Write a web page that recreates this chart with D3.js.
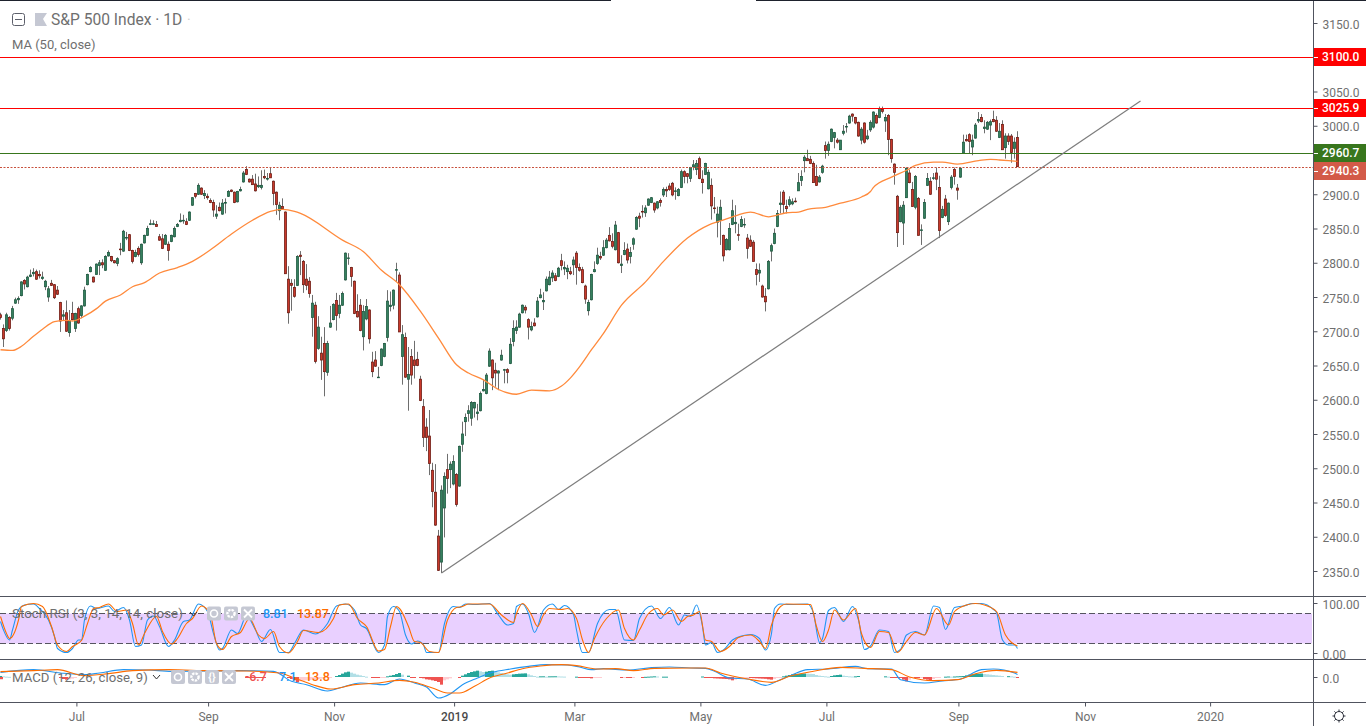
<!DOCTYPE html>
<html>
<head>
<meta charset="utf-8">
<title>S&amp;P 500 Index - 1D</title>
<script src="https://cdnjs.cloudflare.com/ajax/libs/d3/7.8.5/d3.min.js"></script>
<style>
  html, body { margin: 0; padding: 0; background: #fff; overflow: hidden; }
  text { font-family: Roboto, "Liberation Sans", sans-serif; }
</style>
</head>
<body>
<script>
// daily candles, left to right
var opens = [
2724,2704,2701,2720,2719,2741,2746,2752,2774,2765,2780,2784,2787,2783,2777,2765,2750,2770,2768,2760,
2742,2722,2727,2698,2726,2704,2733,2723,2737,2768,2787,2779,2783,2796,2800,2789,2810,2809,2803,2799,
2820,2817,2836,2841,2818,2809,2821,2800,2829,2840,2856,2856,2856,2838,2835,2827,2827,2831,2838,2853,
2860,2861,2860,2862,2884,2901,2900,2909,2898,2897,2891,2888,2868,2881,2871,2887,2897,2906,2903,2889,
2905,2918,2936,2922,2922,2915,2911,2910,2926,2923,2930,2919,2903,2876,2882,2874,2776,2770,2764,2767,
2811,2802,2776,2773,2720,2738,2675,2668,2682,2640,2706,2717,2745,2726,2738,2775,2807,2793,2773,2729,
2738,2692,2718,2731,2655,2658,2633,2650,2663,2691,2736,2738,2790,2782,2663,2691,2630,2663,2658,2659,
2630,2590,2560,2547,2497,2465,2401,2363,2442,2498,2498,2477,2491,2474,2535,2568,2580,2573,2588,2580,
2584,2613,2609,2649,2658,2643,2639,2658,2644,2644,2653,2685,2701,2706,2727,2735,2717,2702,2712,2721,
2749,2743,2759,2768,2778,2781,2780,2803,2791,2787,2787,2797,2814,2793,2790,2766,2730,2746,2787,2799,
2809,2811,2822,2840,2831,2819,2844,2796,2812,2820,2809,2827,2849,2868,2875,2873,2884,2888,2887,2880,
2891,2899,2907,2912,2916,2904,2898,2910,2933,2930,2923,2940,2936,2952,2922,2929,2908,2913,2880,2859,
2862,2840,2819,2819,2856,2857,2841,2853,2856,2836,2833,2830,2790,2785,2766,2751,2762,2817,2828,2853,
2885,2903,2882,2885,2886,2890,2905,2920,2949,2952,2951,2945,2926,2918,2932,2971,2964,2977,2983,2979,
2965,2989,2999,3004,3017,3012,3005,2979,3004,2981,2994,2998,3015,3012,3024,3007,3015,2980,2944,2897,
2860,2858,2895,2931,2907,2881,2894,2847,2865,2913,2919,2923,2931,2910,2866,2893,2860,2910,2936,2909,
2925,2960,2980,2987,2969,2982,3007,3012,2996,2995,3001,3009,3008,2983,3002,2968,2985,2985,2967,2983];
var closes = [
2720,2689,2724,2704,2733,2746,2748,2772,2769,2779,2782,2786,2776,2781,2779,2773,2762,2767,2749,2754,
2715,2724,2700,2715,2717,2726,2712,2737,2760,2783,2793,2772,2798,2800,2797,2809,2815,2803,2800,2806,
2819,2846,2837,2818,2802,2815,2812,2827,2840,2850,2857,2857,2853,2833,2821,2840,2818,2840,2850,2856,
2862,2862,2856,2874,2895,2897,2913,2900,2901,2895,2888,2877,2871,2876,2887,2888,2904,2904,2888,2904,
2907,2931,2929,2918,2914,2905,2913,2913,2924,2923,2924,2901,2885,2884,2879,2784,2727,2767,2751,2809,
2809,2768,2767,2755,2741,2656,2706,2658,2641,2682,2712,2739,2723,2738,2755,2814,2807,2780,2726,2721,
2701,2729,2736,2689,2641,2649,2633,2674,2682,2744,2738,2760,2790,2699,2695,2633,2637,2636,2650,2650,
2599,2545,2545,2507,2466,2417,2351,2468,2488,2485,2506,2510,2447,2532,2550,2574,2584,2596,2596,2582,
2609,2615,2636,2671,2632,2639,2642,2665,2644,2640,2681,2704,2706,2725,2738,2731,2706,2707,2708,2744,
2753,2745,2776,2779,2785,2774,2792,2796,2793,2792,2784,2804,2793,2789,2771,2747,2742,2783,2790,2811,
2807,2822,2833,2832,2824,2855,2800,2798,2818,2804,2815,2835,2866,2865,2874,2880,2893,2895,2877,2889,
2888,2907,2905,2907,2899,2905,2907,2933,2926,2926,2939,2943,2945,2923,2917,2945,2932,2883,2879,2871,
2881,2810,2834,2850,2876,2859,2840,2863,2856,2821,2824,2802,2783,2789,2750,2743,2802,2825,2843,2872,
2887,2885,2879,2892,2889,2889,2917,2926,2954,2949,2945,2917,2913,2925,2941,2964,2973,2995,2990,2976,
2979,2992,2999,3014,3014,3004,2985,2995,2976,2985,3005,3020,3004,3025,3021,3012,2980,2952,2932,2844,
2881,2884,2938,2917,2882,2926,2840,2848,2888,2923,2900,2924,2922,2847,2878,2869,2887,2925,2926,2906,
2938,2976,2978,2977,2979,3001,3009,3006,2998,3005,3006,3006,2992,2992,2965,2985,2977,2961,2976,2940.3];
var highs = [
2727,2710,2727,2722,2737,2749,2751,2773,2776,2781,2790,2792,2790,2789,2787,2775,2766,2775,2769,2766,
2743,2731,2745,2731,2743,2727,2736,2738,2765,2784,2795,2780,2799,2804,2805,2811,2818,2810,2804,2808,
2829,2848,2845,2842,2819,2819,2824,2828,2841,2854,2863,2862,2861,2842,2842,2842,2831,2841,2853,2858,
2872,2870,2865,2875,2896,2902,2916,2910,2906,2901,2894,2892,2884,2888,2893,2894,2906,2907,2904,2905,
2911,2934,2941,2923,2928,2930,2926,2935,2936,2931,2939,2920,2904,2889,2894,2875,2795,2776,2776,2811,
2817,2804,2798,2779,2753,2743,2722,2692,2706,2686,2737,2741,2756,2753,2758,2815,2814,2794,2774,2754,
2747,2738,2747,2732,2670,2671,2648,2675,2683,2760,2758,2761,2800,2786,2709,2698,2677,2674,2686,2670,
2635,2601,2573,2585,2508,2506,2410,2475,2494,2521,2510,2519,2493,2533,2568,2580,2592,2598,2597,2594,
2612,2629,2639,2675,2659,2654,2643,2673,2645,2646,2690,2716,2716,2727,2739,2738,2719,2714,2719,2750,
2762,2757,2780,2788,2789,2785,2794,2813,2802,2797,2794,2809,2817,2799,2794,2768,2746,2784,2802,2822,
2816,2833,2836,2852,2843,2861,2845,2811,2830,2828,2823,2837,2868,2873,2884,2884,2894,2896,2888,2890,
2894,2910,2911,2916,2918,2910,2909,2936,2935,2931,2940,2950,2950,2955,2935,2946,2936,2923,2896,2882,
2892,2841,2836,2858,2892,2884,2857,2868,2865,2842,2840,2833,2799,2799,2768,2763,2804,2828,2850,2877,
2904,2906,2892,2897,2894,2895,2931,2935,2957,2965,2956,2948,2943,2928,2943,2977,2977,2996,2991,2982,
2979,3001,3004,3016,3018,3013,3006,2998,3005,2994,3008,3021,3018,3028,3028,3017,3017,2981,2945,2899,
2884,2890,2939,2936,2918,2928,2896,2856,2893,2931,2925,2931,2939,2927,2883,2899,2888,2928,2939,2915,
2939,2987,2987,2989,2987,3004,3020,3017,3008,3007,3009,3022,3014,3004,3008,2989,2989,2988,2983,2992];
var lows = [
2717,2677,2699,2701,2716,2740,2740,2751,2761,2764,2779,2780,2775,2777,2775,2760,2743,2766,2747,2753,
2699,2716,2699,2692,2716,2699,2711,2719,2736,2767,2786,2771,2783,2782,2792,2788,2809,2801,2799,2795,
2811,2816,2833,2817,2799,2808,2809,2797,2828,2839,2855,2855,2853,2832,2820,2826,2803,2830,2837,2852,
2859,2857,2855,2861,2883,2894,2899,2899,2893,2892,2887,2867,2864,2875,2870,2872,2896,2903,2887,2888,
2904,2917,2928,2917,2914,2904,2909,2907,2922,2920,2924,2884,2870,2862,2877,2784,2711,2730,2749,2766,
2782,2756,2760,2749,2692,2653,2673,2629,2605,2635,2705,2716,2701,2719,2737,2774,2797,2765,2725,2720,
2700,2672,2716,2682,2633,2648,2632,2649,2662,2685,2729,2732,2772,2699,2622,2632,2584,2622,2631,2649,
2598,2531,2525,2490,2443,2416,2350,2347,2399,2463,2471,2475,2444,2473,2524,2547,2568,2562,2574,2570,
2583,2612,2608,2648,2614,2619,2614,2657,2624,2624,2652,2678,2696,2705,2726,2726,2688,2700,2707,2720,
2748,2731,2758,2767,2772,2773,2779,2789,2782,2776,2782,2782,2768,2787,2770,2740,2723,2745,2786,2797,
2804,2810,2821,2831,2821,2818,2799,2785,2811,2799,2799,2819,2848,2852,2866,2867,2883,2887,2873,2878,
2882,2896,2896,2905,2897,2892,2897,2909,2916,2916,2918,2935,2928,2922,2901,2928,2907,2863,2872,2837,
2826,2802,2818,2818,2855,2843,2832,2852,2851,2806,2823,2802,2767,2772,2749,2729,2761,2802,2827,2852,
2872,2872,2872,2882,2884,2888,2905,2912,2932,2949,2944,2917,2912,2917,2930,2952,2956,2976,2967,2974,
2965,2986,2990,3003,3006,3002,2984,2973,2974,2979,2991,2996,3003,3011,3018,2991,2957,2946,2914,2823,
2859,2826,2895,2916,2882,2878,2840,2826,2864,2912,2899,2921,2906,2836,2865,2867,2855,2907,2914,2892,
2924,2959,2977,2960,2957,2981,3004,3005,2989,2994,2979,3005,2991,2982,2965,2952,2972,2946,2952,2940];

// 50 day moving average
var maBars = [0,4,7,10,14,18,22,24,28,32,35,40,44,48,53,59,64,70,77,84,90,94,98,100,114,121,127,133,140,146,152,156,161,166,172,177,183,187,190,
  193,197,201,207,215,221,229,236,240,246,250,256,262,266,269,275,280,287,290,291,297,302,305,311,314,319,326,330,333,339];
var maValues = [2673,2672,2678,2689,2703,2714,2716,2715,2722,2733,2744,2753,2765,2771,2785,2793,2802,2819,2842,2862,2875,2878,2875,2872,2833,2816,2789,2768,2729,2690,2651,2639,2629,2615,2608,2614,2613,2620,2632,
  2648,2673,2697,2738,2772,2802,2836,2855,2861,2870,2874,2867,2873,2874,2878,2881,2887,2896,2904,2910,2925,2935,2942,2947,2947,2944,2949,2951,2950,2948];

// horizontal levels and the trend line
var levelPrices = [3100, 3025.9, 2960.7, 2940.3];
var levelLabels = ["3100.0", "3025.9", "2960.7", "2940.3"];
var levelColors = ["#ff0000", "#ff0000", "#38761d", "#d35a48"];
var trendBars = [147, 380];
var trendPrices = [2347, 3036];

// stochastic rsi lines
var kBars = [0,1,3,4,6,8,11,13,16,18,19,22,24,26,27,28,30,32,36,38,41,43,45,47,49,51,53,56,58,61,63,66,69,71,73,74,77,79,82,85,87,90,93,96,98,101,105,109,112,115,118,120,122,126,128,129,131,133,
  135,137,139,141,142,146,148,151,153,155,158,163,166,169,171,172,174,176,178,181,184,186,188,191,192,194,196,199,203,205,208,211,213,217,220,223,226,228,230,
  232,234,235,237,239,241,244,247,250,253,255,257,258,260,263,269,271,273,274,276,278,281,284,286,288,290,293,296,298,300,302,305,308,311,313,315,318,321,324,327,331,332,334,336,338,339];
var kValues = [63,46,26,46,86,96,98,89,66,33,9,1,9,26,26,66,94,89,94,83,91,66,13,16,66,74,53,13,26,63,66,98,83,39,6,9,46,39,74,46,23,47,1,1,19,46,38,59,94,98,86,56,49,1,16,73,93,83,
  36,18,24,16,1,1,59,93,91,98,97,99,76,56,59,93,98,79,41,86,98,87,95,77,46,1,1,59,87,87,26,25,69,94,69,91,56,76,73,
  96,53,16,21,1,6,26,34,37,29,6,39,89,98,97,98,79,21,29,85,91,63,93,66,7,14,46,43,1,7,36,43,36,94,91,47,91,94,99,99,87,81,26,16,16,8.81];
var dBars = [0,2,3,6,7,11,14,17,19,22,24,27,29,31,33,36,39,42,44,46,48,52,54,57,59,62,64,67,70,72,74,77,80,83,86,88,91,93,96,99,101,106,111,113,116,119,122,126,128,130,132,
  133,136,138,140,143,146,149,152,154,156,159,163,167,171,172,174,177,179,181,183,187,189,192,194,196,198,202,206,208,211,213,216,219,221,224,227,229,
  231,233,235,237,240,243,246,250,253,255,257,260,262,270,272,274,276,278,281,285,287,290,293,296,299,302,305,308,312,316,318,322,325,328,332,335,337,339];
var dValues = [73,39,29,66,93,99,93,53,16,3,13,25,59,89,91,98,83,86,59,16,39,73,43,18,29,59,69,94,76,19,7,33,41,69,36,29,43,13,0,23,45,41,69,96,98,69,53,4,7,53,93,
  89,53,23,21,3,1,66,91,93,98,98,98,76,61,79,99,76,53,76,89,87,89,69,26,1,29,69,86,49,26,46,79,89,76,86,63,73,
  76,83,26,23,3,13,31,36,23,9,56,93,98,97,53,23,46,86,66,89,39,11,43,41,1,23,41,36,89,56,83,96,99,96,83,36,21,13.87];
var stochTicks = [100, 0];
var stochBand = [80, 20];

// macd lines
var macdBars = [0,11,20,28,33,41,49,57,69,80,91,97,102,109,113,120,128,133,138,142,146,150,154,159,164,170,176,182,189,193,197,201,209,217,223,230,235,238,243,249,255,260,264,269,276,285,289,297,300,308,314,320,327,331,338,339];
var macdValues = [14,22,12,7,12,22,21,17,18,19,17,-13,-23,-42,-33,-18,-23,-6,-18,-30,-63,-50,-23,-3,14,24,32,37,36,30,22,25,21,28,30,27,26,17,-3,-6,-25,-8,7,22,24,32,25,24,-8,-18,-12,-6,22,24,12,7.1];
var signalBars = [0,11,19,28,36,44,56,69,82,93,98,104,110,118,126,133,138,144,149,153,158,163,169,174,180,187,192,199,205,211,218,230,235,240,249,257,263,271,280,288,297,303,311,319,325,332,339];
var signalValues = [16,19,22,4,10,19,22,19,18,12,-3,-23,-36,-23,-18,-10,-16,-33,-48,-48,-28,-3,12,25,33,37,34,24,25,19,26,27,27,12,-6,-16,2,17,29,26,22,0,-11,-8,10,20,13.8];
var histBars = [0,1,2,3,20,21,22,23,24,25,82,83,84,85,86,87,88,96,97,98,99,100,101,102,103,104,105,106,107,108,109,110,112,113,114,115,116,117,118,119,120,121,122,124,125,126,127,128,129,130,131,132,133,134,
  136,137,138,140,141,142,143,144,145,146,147,148,149,150,153,154,155,156,157,158,159,160,161,162,163,164,165,166,167,168,169,170,171,172,173,174,175,176,177,178,179,180,181,182,183,184,185,186,187,188,
  192,193,194,195,196,197,198,199,200,207,208,209,210,211,214,215,216,217,218,219,221,222,234,235,236,237,238,239,240,241,242,243,244,245,246,247,248,249,250,251,252,253,254,255,256,257,258,
  259,260,261,262,263,264,265,266,267,268,269,270,271,272,273,274,275,276,277,278,279,280,281,282,283,284,285,286,295,296,297,298,299,300,301,302,303,304,305,306,307,308,309,310,311,312,313,315,316,
  317,318,319,320,321,322,323,324,325,326,327,328,329,330,331,332,333,334,336,337,338,339];
var histValues = [3,2,1,0.5,-3,-6,-8,-7,-5,-3,-1,-1.1,-1.2,-1.3,-1.4,-1.5,-1.6,-3,-6,-10,-16,-13,-11,-10,-9,-8,-7,-6,-5,-4,-3,-1,3,6,10,14,16,13,10,7,5,3,1,-1,-2,-2.5,-1,-0.5,2,4,6,9,12,7,4,
  -1,-1.2,-1.4,-4,-7,-8,-10,-12,-15,-23,-10,-7,-4,-2,4,8,12,15,17,19,17,15,16,18,19,17,14,12,10,8,7,8,9,10,10.5,11,8,5,3,1,2,2.1,1,2,2.1,2.2,1.8,1.5,1.2,1,
  -1,-1.5,-2,-2.5,-4,-3,-2,-1.5,-1,-0.5,-1,-1.5,-1,-0.5,0.5,1,1.5,2,1.5,1,1,1.5,-1,-2,-3,-4,-4.5,-5,-5.5,-6,-7,-10,-8,-6,-4,-3,-2,-3,-3.5,-4,-4.5,-5,-5.5,-7,-8,-6,-3,-1,
  2,4,6,8,9,9.5,10,10.5,10,9.5,9,6,4,3,2,1,3,5,6,7,4,3,2,1.5,2,3,2,1,-0.5,-1,-1.5,-2,-8,-13,-8,-2,-3,-3.5,-3,-6,-8,-10,-6,-3,-1,1,1.5,1,1.5,
  2,2.5,3,5,7,8,9,10,10.5,9,8,7,6,5,4,3,2.5,2,1,-1,-2,-3,-6.7];

// axis ticks, 2950 sits behind the tags so it is left out
var priceTicks = [3150,3050,3000,2900,2850,2800,2750,2700,2650,2600,2550,2500,2450,2400,2350];
var timeBars = [25.3,69.2,111.2,151.2,191.3,233.3,275.3,319.3,361.5,403.2];
var timeLabels = ["Jul","Sep","Nov","2019","Mar","May","Jul","Sep","Nov","2020"];

var width = 1366, height = 726;
var axisX = 1313;
var priceBottom = 596, stochBottom = 659, macdBottom = 702;
var lineColor = "#50535e", textColor = "#6f6f6f", tickColor = "#50535e";

var svg = d3.select("body").append("svg")
  .attr("width", width)
  .attr("height", height)
  .style("display", "block");

var xScale = d3.scaleLinear().domain([0, 339]).range([0.5, 1017.5]);
var yPrice = d3.scaleLinear().domain([3150, 2350]).range([23, 571]);
var yStoch = d3.scaleLinear().domain([100, 0]).range([603, 653]);
var yMacd = d3.scaleLinear().domain([60, -60]).range([657, 697]);

// stoch rsi band goes under everything
svg.append("rect")
  .attr("x", 0)
  .attr("y", yStoch(stochBand[0]) + 0.5)
  .attr("width", axisX - 1)
  .attr("height", yStoch(stochBand[1]) - yStoch(stochBand[0]))
  .attr("fill", "#e9d0ff");

svg.selectAll(".band")
  .data(stochBand)
  .enter()
  .append("line")
  .attr("class", "band")
  .attr("x1", 0)
  .attr("x2", axisX - 1)
  .attr("y1", function(d) { return yStoch(d) + 0.5; })
  .attr("y2", function(d) { return yStoch(d) + 0.5; })
  .attr("stroke", "#55555f")
  .attr("stroke-width", 1)
  .attr("stroke-dasharray", "6,3");

// wicks then bodies
var candles = svg.append("g").selectAll("g")
  .data(opens)
  .enter()
  .append("g");

candles.append("line")
  .attr("x1", function(d, i) { return xScale(i); })
  .attr("x2", function(d, i) { return xScale(i); })
  .attr("y1", function(d, i) { return yPrice(highs[i]); })
  .attr("y2", function(d, i) { return yPrice(lows[i]); })
  .attr("stroke", "#6e6e6e")
  .attr("stroke-width", 1);

candles.append("rect")
  .attr("x", function(d, i) { return xScale(i) - 1; })
  .attr("y", function(d, i) { return yPrice(Math.max(opens[i], closes[i])); })
  .attr("width", 2)
  .attr("height", function(d, i) { return Math.max(0.6, yPrice(Math.min(opens[i], closes[i])) - yPrice(Math.max(opens[i], closes[i]))); })
  .attr("fill", function(d, i) { return closes[i] >= opens[i] ? "#36805e" : "#c9392b"; })
  .attr("stroke", function(d, i) { return closes[i] >= opens[i] ? "#1f5a42" : "#6f1d14"; })
  .attr("stroke-width", 0.8);

function bandLine(yScale) {
  return d3.line()
    .x(function(d) { return xScale(d[0]); })
    .y(function(d) { return yScale(d[1]); })
    .curve(d3.curveMonotoneX);
}

// moving average
svg.append("path")
  .attr("d", bandLine(yPrice)(d3.zip(maBars, maValues)))
  .attr("fill", "none")
  .attr("stroke", "#ff8a3c")
  .attr("stroke-width", 1.3);

// levels
svg.selectAll(".level")
  .data(levelPrices)
  .enter()
  .append("line")
  .attr("class", "level")
  .attr("x1", 0)
  .attr("x2", axisX)
  .attr("y1", function(d) { return Math.round(yPrice(d)) + 0.5; })
  .attr("y2", function(d) { return Math.round(yPrice(d)) + 0.5; })
  .attr("stroke", function(d, i) { return i == 3 ? "#c8513d" : levelColors[i]; })
  .attr("stroke-width", 1)
  .attr("stroke-dasharray", function(d, i) { return i == 3 ? "2,1.5" : null; });

// trend line
svg.append("line")
  .attr("x1", xScale(trendBars[0]))
  .attr("y1", yPrice(trendPrices[0]))
  .attr("x2", xScale(trendBars[1]))
  .attr("y2", yPrice(trendPrices[1]))
  .attr("stroke", "#7d7d7d")
  .attr("stroke-width", 1.2);

// stoch rsi lines
svg.append("path")
  .attr("d", bandLine(yStoch)(d3.zip(kBars, kValues)))
  .attr("fill", "none")
  .attr("stroke", "#2196f3")
  .attr("stroke-width", 1.1);
svg.append("path")
  .attr("d", bandLine(yStoch)(d3.zip(dBars, dValues)))
  .attr("fill", "none")
  .attr("stroke", "#ff6d00")
  .attr("stroke-width", 1.1);

// macd histogram
svg.append("g").selectAll("rect")
  .data(histValues)
  .enter()
  .append("rect")
  .attr("x", function(d, i) { return xScale(histBars[i]) - 1.5; })
  .attr("width", 3)
  .attr("y", function(d) { return d > 0 ? yMacd(d) : yMacd(0); })
  .attr("height", function(d) { return Math.max(1, Math.abs(yMacd(d) - yMacd(0))); })
  .attr("fill", function(d, i) {
    var prev = i > 0 && histBars[i - 1] == histBars[i] - 1 ? histValues[i - 1] : 0;
    if (d >= 0) return d >= prev ? "#26a69a" : "#b2dfe6";
    return d < prev ? "#ef5350" : "#ffcdd2";
  });

svg.append("path")
  .attr("d", bandLine(yMacd)(d3.zip(macdBars, macdValues)))
  .attr("fill", "none")
  .attr("stroke", "#2196f3")
  .attr("stroke-width", 1.1);
svg.append("path")
  .attr("d", bandLine(yMacd)(d3.zip(signalBars, signalValues)))
  .attr("fill", "none")
  .attr("stroke", "#ff6d00")
  .attr("stroke-width", 1.1);

// panel borders
[priceBottom, stochBottom, macdBottom].forEach(function(py) {
  svg.append("line")
    .attr("x1", 0).attr("x2", width)
    .attr("y1", py + 0.5).attr("y2", py + 0.5)
    .attr("stroke", lineColor);
});
svg.append("line")
  .attr("x1", axisX + 0.5).attr("x2", axisX + 0.5)
  .attr("y1", 0).attr("y2", height)
  .attr("stroke", lineColor);

// top strip, broken in the middle
[[0, 611], [756, width]].forEach(function(seg) {
  svg.append("rect")
    .attr("x", seg[0]).attr("y", 0)
    .attr("width", seg[1] - seg[0]).attr("height", 1)
    .attr("fill", "#1e222d");
});

function styleAxis(g) {
  g.select(".domain").remove();
  g.selectAll(".tick line").attr("stroke", tickColor);
  g.selectAll(".tick text")
    .attr("fill", textColor)
    .style("font-size", "12px")
    .style("font-family", 'Roboto, "Liberation Sans", sans-serif');
}

function lowerLabels(g) {
  g.selectAll(".tick text").attr("dy", "0.42em");
}

// price, stoch and macd axes
svg.append("g")
  .attr("transform", "translate(" + (axisX + 0.5) + ",0)")
  .call(d3.axisRight(yPrice).tickValues(priceTicks).tickSize(4).tickPadding(5).tickFormat(d3.format(".1f")))
  .call(styleAxis)
  .call(lowerLabels);
svg.append("g")
  .attr("transform", "translate(" + (axisX + 0.5) + ",0)")
  .call(d3.axisRight(yStoch).tickValues(stochTicks).tickSize(4).tickPadding(5).tickFormat(d3.format(".2f")))
  .call(styleAxis)
  .call(lowerLabels);
svg.append("g")
  .attr("transform", "translate(" + (axisX + 0.5) + ",0)")
  .call(d3.axisRight(yMacd).tickValues([0]).tickSize(4).tickPadding(5).tickFormat(d3.format(".1f")))
  .call(styleAxis)
  .call(lowerLabels);

// time axis
svg.append("g")
  .attr("transform", "translate(0," + (macdBottom + 0.5) + ")")
  .call(d3.axisBottom(xScale).tickValues(timeBars).tickSize(4).tickPadding(6).tickFormat(function(d, i) { return timeLabels[i]; }))
  .call(styleAxis)
  .selectAll(".tick text")
  .attr("fill", function(d, i) { return timeLabels[i] == "2019" ? "#4a4a4a" : textColor; })
  .style("font-weight", function(d, i) { return timeLabels[i] == "2019" ? "500" : "400"; });

// price tags on the axis, the two lower ones get pushed apart
function tagCenter(d) {
  if (d == levelPrices[3]) return 171;
  return Math.round(yPrice(d));
}

var tags = svg.selectAll(".tag")
  .data(levelPrices)
  .enter()
  .append("g")
  .attr("class", "tag");
tags.append("rect")
  .attr("x", axisX + 1)
  .attr("y", function(d) { return tagCenter(d) - 9; })
  .attr("width", width - axisX - 1)
  .attr("height", 18)
  .attr("fill", function(d, i) { return levelColors[i]; });
tags.append("line")
  .attr("x1", axisX + 1)
  .attr("x2", axisX + 5)
  .attr("y1", function(d) { return tagCenter(d) + 0.5; })
  .attr("y2", function(d) { return tagCenter(d) + 0.5; })
  .attr("stroke", "#fff");
tags.append("text")
  .attr("x", axisX + 9)
  .attr("y", function(d) { return tagCenter(d); })
  .attr("dy", "0.35em")
  .attr("fill", "#fff")
  .style("font-size", "12px")
  .style("font-weight", "500")
  .text(function(d, i) { return levelLabels[i]; });

// settings gear at the corner
var gear = svg.append("g").attr("transform", "translate(1339,716)").attr("stroke", "#2a2e39").attr("fill", "none");
gear.append("circle").attr("r", 4.5);
d3.range(8).forEach(function(k) {
  var a = k * Math.PI / 4;
  gear.append("line")
    .attr("x1", Math.cos(a) * 4.5).attr("y1", Math.sin(a) * 4.5)
    .attr("x2", Math.cos(a) * 6.5).attr("y2", Math.sin(a) * 6.5);
});

// legends
function legendText(x, y, str, size, color, weight) {
  return svg.append("text")
    .attr("x", x).attr("y", y)
    .attr("dy", "0.35em")
    .attr("fill", color)
    .style("font-size", size + "px")
    .style("font-weight", weight || 400)
    .text(str);
}

function iconBox(x, y, kind) {
  var g = svg.append("g").attr("transform", "translate(" + x + "," + y + ")");
  g.append("rect").attr("width", 14).attr("height", 14).attr("rx", 2).attr("fill", "#c5c8d3");
  if (kind == "eye") {
    g.append("circle").attr("cx", 7).attr("cy", 7).attr("r", 3.5).attr("fill", "none").attr("stroke", "#fff").attr("stroke-width", 1.6);
  } else if (kind == "gear") {
    g.append("circle").attr("cx", 7).attr("cy", 7).attr("r", 3.6).attr("fill", "none").attr("stroke", "#fff").attr("stroke-width", 2.4).attr("stroke-dasharray", "2.4,1");
  } else if (kind == "close") {
    g.append("path").attr("d", "M3,3L11,11M11,3L3,11").attr("stroke", "#fff").attr("stroke-width", 1.8);
  } else {
    g.append("text").attr("x", 7).attr("y", 11).attr("text-anchor", "middle").attr("fill", "#fff")
      .style("font-size", "11px").style("font-weight", 700).text("{}");
  }
}

// collapse box and flag next to the title
svg.append("rect").attr("x", 12.5).attr("y", 13.5).attr("width", 12).attr("height", 12).attr("rx", 2)
  .attr("fill", "none").attr("stroke", "#5d606b");
svg.append("line").attr("x1", 15).attr("x2", 22).attr("y1", 19.5).attr("y2", 19.5).attr("stroke", "#5d606b");
svg.append("path").attr("d", "M35,13H47L43,19L47,26H35Z").attr("fill", "#c5c8d3");

legendText(51, 20, "S&P 500 Index · 1D", 15.6, textColor);
legendText(187, 20, "·", 14, "#cfcfcf");
legendText(12, 44.5, "MA (50, close)", 13, textColor);

legendText(12, 613.5, "Stoch RSI (3, 3, 14, 14, close)", 13.4, textColor);
svg.append("path").attr("d", "M190,612L193.5,616L197,612").attr("fill", "none").attr("stroke", "#333");
iconBox(207, 606.5, "eye");
iconBox(224, 606.5, "gear");
iconBox(241, 606.5, "close");
legendText(263, 613.5, "8.81", 12.5, "#2196f3", 500);
legendText(297, 613.5, "13.87", 12.5, "#ff6d00", 500);

legendText(12, 677, "MACD (12, 26, close, 9)", 13.2, textColor);
svg.append("path").attr("d", "M153,675L156.5,679L160,675").attr("fill", "none").attr("stroke", "#333");
iconBox(171, 670, "eye");
iconBox(188, 670, "gear");
iconBox(205, 670, "braces");
iconBox(222, 670, "close");
legendText(245, 677, "-6.7", 12.5, "#ef5350", 500);
legendText(279, 677, "7.1", 12.5, "#2196f3", 500);
legendText(305, 677, "13.8", 12.5, "#ff6d00", 500);
</script>
</body>
</html>
